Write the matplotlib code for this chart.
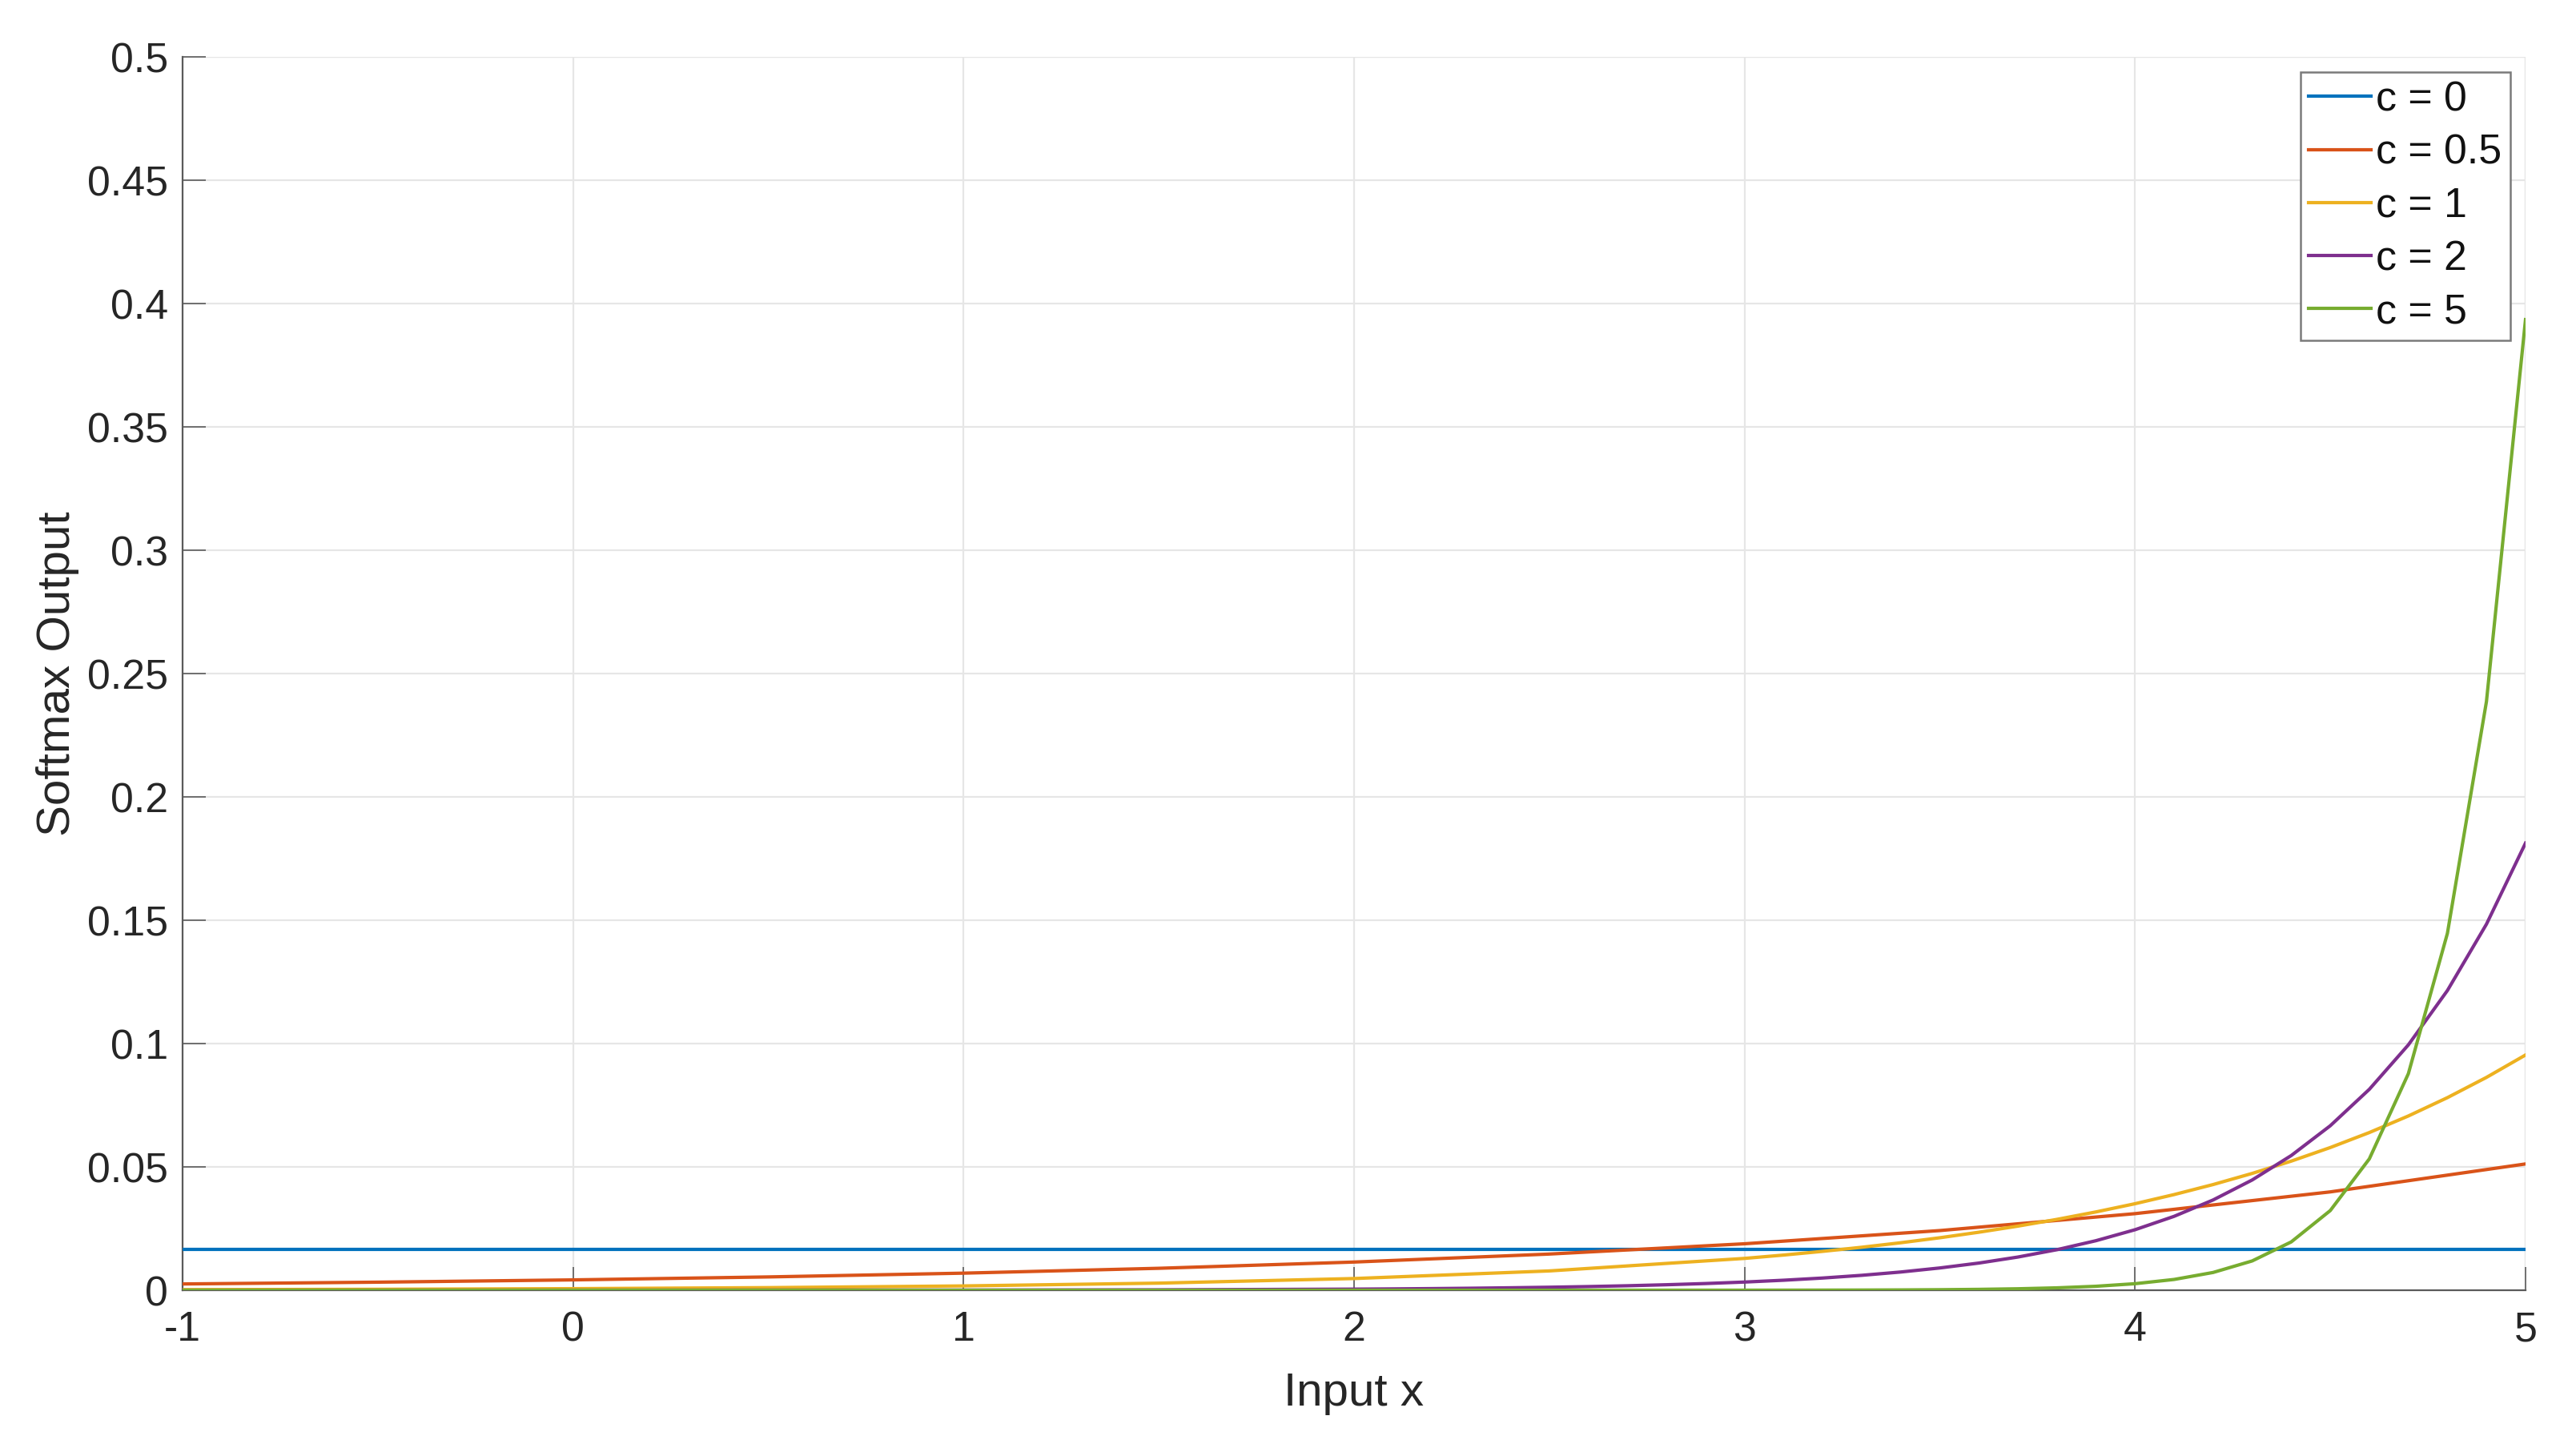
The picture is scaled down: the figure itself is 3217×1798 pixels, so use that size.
import matplotlib
matplotlib.use("Agg")
import matplotlib.pyplot as plt

plt.rcParams['font.family'] = ['Liberation Sans', 'DejaVu Sans']

# values (softmax output vs input x)
x_c0 = [-1.0, 5.0]
y_c0 = [0.0164, 0.0164]

x_c05 = [-1.0, -0.5, 0.0, 0.5, 1.0, 1.5, 2.0, 2.5, 3.0, 3.5, 4.0, 4.5, 5.0]
y_c05 = [0.00255, 0.00327, 0.00420, 0.00540, 0.00693, 0.00890, 0.01143,
         0.01467, 0.01884, 0.02419, 0.03105, 0.03987, 0.05120]

x_c1 = [-1.0, -0.5, 0.0, 0.5, 1.0, 1.5, 2.0, 2.5, 3.0, 3.1, 3.2, 3.3, 3.4,
        3.5, 3.6, 3.7, 3.8, 3.9, 4.0, 4.1, 4.2, 4.3, 4.4, 4.5, 4.6, 4.7,
        4.8, 4.9, 5.0]
y_c1 = [0.000236, 0.000390, 0.000643, 0.001060, 0.001747, 0.002880,
        0.004748, 0.007829, 0.012907, 0.014264, 0.015764, 0.017422,
        0.019255, 0.02128, 0.02352, 0.02599, 0.02873, 0.03175, 0.03508,
        0.03878, 0.04285, 0.04736, 0.05234, 0.05785, 0.06393, 0.07065,
        0.07808, 0.08629, 0.09537]

x_c2 = [-1.0, 0.0, 1.0, 1.5, 2.0, 2.1, 2.2, 2.3, 2.4, 2.5, 2.6, 2.7, 2.8,
        2.9, 3.0, 3.1, 3.2, 3.3, 3.4, 3.5, 3.6, 3.7, 3.8, 3.9, 4.0, 4.1,
        4.2, 4.3, 4.4, 4.5, 4.6, 4.7, 4.8, 4.9, 5.0]
y_c2 = [0.0000011, 0.0000082, 0.0000608, 0.000165, 0.000449, 0.000549,
        0.000670, 0.000819, 0.001000, 0.00122, 0.00149, 0.00182, 0.00223,
        0.00272, 0.00332, 0.00406, 0.00495, 0.00605, 0.00739, 0.00903,
        0.01102, 0.01346, 0.01644, 0.02009, 0.02453, 0.02996, 0.03660,
        0.04470, 0.05460, 0.06669, 0.08145, 0.09948, 0.12151, 0.14841,
        0.18127]

x_c5 = [-1.0, 3.0, 3.1, 3.2, 3.3, 3.4, 3.5, 3.6, 3.7, 3.8, 3.9, 4.0, 4.1,
        4.2, 4.3, 4.4, 4.5, 4.6, 4.7, 4.8, 4.9, 5.0]
y_c5 = [0.0, 0.000018, 0.000030, 0.000049, 0.000080, 0.000132, 0.000218,
        0.000359, 0.000592, 0.000975, 0.001608, 0.002651, 0.004371,
        0.007207, 0.01188, 0.01959, 0.03230, 0.05325, 0.08780, 0.1447,
        0.2387, 0.3935]

labels = ['c = 0', 'c = 0.5', 'c = 1', 'c = 2', 'c = 5']
colors = ['#0072BD', '#D95319', '#EDB120', '#7E2F8E', '#77AC30']

x_ticks = [-1, 0, 1, 2, 3, 4, 5]
x_ticklabels = ['-1', '0', '1', '2', '3', '4', '5']
y_ticks = [0, 0.05, 0.1, 0.15, 0.2, 0.25, 0.3, 0.35, 0.4, 0.45, 0.5]
y_ticklabels = ['0', '0.05', '0.1', '0.15', '0.2', '0.25', '0.3', '0.35',
                '0.4', '0.45', '0.5']

text_color = '#262626'
axis_color = '#5a5a5a'

fig = plt.figure(figsize=(16.085, 8.99), dpi=200)
ax = fig.add_axes([0.0709, 0.1040, 0.9095, 0.8565])

series = [(x_c0, y_c0), (x_c05, y_c05), (x_c1, y_c1), (x_c2, y_c2), (x_c5, y_c5)]
for (xs, ys), lab, col in zip(series, labels, colors):
    ax.plot(xs, ys, color=col, linewidth=1.5, label=lab, zorder=3)

ax.set_xlim(-1, 5)
ax.set_ylim(0, 0.5)
ax.set_xticks(x_ticks)
ax.set_xticklabels(x_ticklabels)
ax.set_yticks(y_ticks)
ax.set_yticklabels(y_ticklabels)

# MATLAB-ish look: grid on, box off, ticks inside
ax.grid(True, color='#e6e6e6', linewidth=0.8, zorder=0)
ax.set_axisbelow(True)
for side in ['top', 'right']:
    ax.spines[side].set_visible(False)
for side in ['left', 'bottom']:
    ax.spines[side].set_color(axis_color)
    ax.spines[side].set_linewidth(0.8)
# light frame on top/right like the grid
ax.axhline(0.5, color='#e6e6e6', linewidth=0.8, zorder=0)
ax.axvline(5, color='#e6e6e6', linewidth=0.8, zorder=0)

ax.tick_params(axis='both', direction='in', length=10.5, width=0.6,
               color=axis_color, labelsize=18.7, labelcolor=text_color)
ax.tick_params(axis='y', pad=6.5)
ax.tick_params(axis='x', pad=9)

ax.set_xlabel('Input x', fontsize=21, color=text_color, labelpad=10)
ax.set_ylabel('Softmax Output', fontsize=21, color=text_color, labelpad=3.5)

leg = ax.legend(loc='upper right', fontsize=18.7, frameon=True, fancybox=False,
                borderaxespad=0.37, handlelength=1.5, handletextpad=0.12,
                labelspacing=0.33, borderpad=0.2)
leg.get_frame().set_edgecolor('#7a7a7a')
leg.get_frame().set_linewidth(0.9)
leg.get_frame().set_alpha(1)
for t in leg.get_texts():
    t.set_color('#111111')

fig.savefig('out.png', dpi=200, facecolor='white')
